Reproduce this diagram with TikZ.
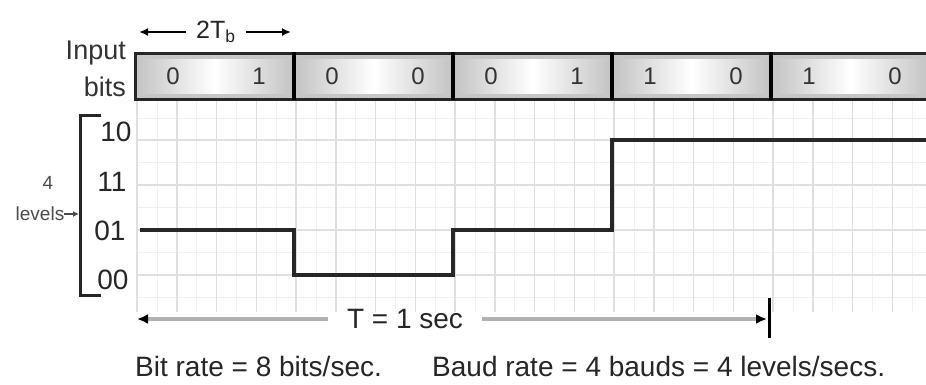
\documentclass[tikz,border=0pt]{standalone}
\usepackage{fontspec}
\setmainfont{Liberation Sans}
\usetikzlibrary{arrows.meta}
\begin{document}
\begin{tikzpicture}[x=1pt,y=-1pt,
  lbl/.style={font=\fontsize{28}{30}\selectfont, inner sep=0pt, text=black!85},
  sidelbl/.style={font=\fontsize{27}{29}\selectfont, inner sep=0pt, text=black!80},
  bitlbl/.style={font=\fontsize{24}{26}\selectfont, inner sep=0pt, text=black!80},
  wave/.style={line width=4pt, draw=black!85, line join=miter},
  gridmajor/.style={draw=gray!25, line width=1.5pt},
  gridminor/.style={draw=gray!12, line width=1pt},
  barline/.style={draw=black!85, line width=3pt},
  divline/.style={draw=black, line width=3.5pt},
  thinarr/.style={draw=black, line width=1.8pt, -{Latex[length=9pt,width=8pt]}},
  tarr/.style={draw=gray!60, line width=3.5pt, -{Latex[length=11pt,width=10pt,color=black]}},
]
\useasboundingbox[fill=white] (0,0) rectangle (926,384);

% grid
\foreach \k in {0,...,19} {
  \draw[gridminor] ({157+39.75*\k},100) -- ({157+39.75*\k},312);
}
\foreach \yy in {118,162,207,252,297} {
  \draw[gridminor] (137,\yy) -- (926,\yy);
}
\foreach \k in {0,...,19} {
  \draw[gridmajor] ({137+39.75*\k},100) -- ({137+39.75*\k},312);
}
\foreach \yy in {140,185,230,275} {
  \draw[gridmajor] (137,\yy) -- (926,\yy);
}

% input bit bar
\foreach \i in {0,...,4} {
  \fill[gray!45] ({135+159*\i},53) rectangle ({135+159*(\i+1)},99);
  \shade[left color=gray!45, right color=gray!45, middle color=white]
    ({139+159*\i},59) rectangle ({290+159*\i},93);
}
\draw[barline] (926,53) -- (135,53) -- (135,99) -- (926,99);
\foreach \xx in {294,453,612,771} {
  \draw[divline] (\xx,52) -- (\xx,100);
}
\foreach \i/\a/\b in {0/0/1,1/0/0,2/0/1,3/1/0,4/1/0} {
  \node[bitlbl] (bA\i) at ({173+159*\i},76) {\a};
  \node[bitlbl] (bB\i) at ({259+159*\i},76) {\b};
}

% input bits label
\node[sidelbl, anchor=base east] (inp) at (126,59) {Input};
\node[sidelbl, anchor=base east] (bits) at (126,96) {bits};

% 2Tb
\node[font=\fontsize{25}{27}\selectfont, inner ysep=0pt, inner xsep=10pt, anchor=base west, text=black!85] (tb) at (186,38) {2T\textsubscript{b}};
\coordinate (tbl) at (139,32);
\coordinate (tbr) at (291,32);
\draw[thinarr] (tb.west |- tbl) -- (tbl);
\draw[thinarr] (tb.east |- tbr) -- (tbr);

% bracket and levels
\coordinate (brt) at (101,115);
\coordinate (brtl) at (80,115);
\coordinate (brbl) at (80,295);
\coordinate (brb) at (101,295);
\draw[line width=3pt, black!85] (brt) -- (brtl) -- (brbl) -- (brb);
\node[lbl] (l10) at (116,132) {10};
\node[lbl] (l11) at (112,182) {11};
\node[lbl] (l01) at (110,231) {01};
\node[lbl] (l00) at (113,280) {00};
\node[font=\fontsize{19}{21}\selectfont, inner sep=0pt, text=black!70] (four) at (48,183) {4};
\node[font=\fontsize{19}{21}\selectfont, inner sep=0pt, text=black!70] (lev) at (40,214) {levels};
\coordinate (levend) at (79,214);
\draw[line width=1.2pt, black!70, -{Latex[length=6pt,width=6pt]}] (lev.east) -- (levend);

% waveform
\draw[wave] (140,230) -- (294,230) -- (294,275) -- (453,275) -- (453,230) -- (612,230) -- (612,140) -- (926,140);

% T = 1 sec
\node[lbl, inner xsep=19pt] (tsec) at (405,319) {T = 1 sec};
\coordinate (tl) at (137,319);
\coordinate (tr) at (767,319);
\coordinate (tk1) at (769,298);
\coordinate (tk2) at (769,338);
\draw[tarr] (tsec.west) -- (tl);
\draw[tarr] (tsec.east) -- (tr);
\draw[line width=3pt, black] (tk1) -- (tk2);

% bottom text
\node[lbl, anchor=base west] (bitrate) at (135,376) {Bit rate = 8 bits/sec.};
\node[lbl, anchor=base west] (baud) at (432,376) {Baud rate = 4 bauds = 4 levels/secs.};
\end{tikzpicture}
\end{document}
